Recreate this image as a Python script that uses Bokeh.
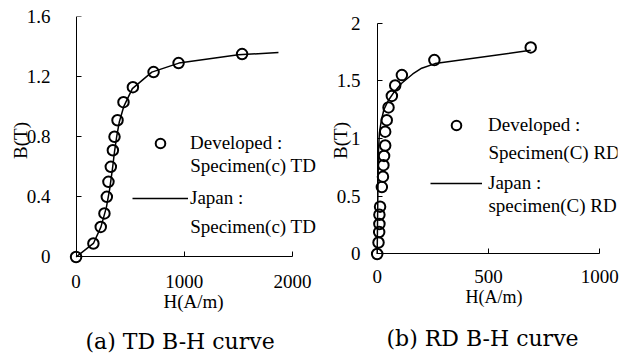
from bokeh.plotting import figure
from bokeh.layouts import row
from bokeh.models import (FixedTicker, Label, Legend, LegendItem, Title, Range1d,
                          LinearAxis)
from bokeh.embed import file_html
from bokeh.resources import INLINE

# ---- data (a) TD ----
TD_H_DEV = [0, 160, 228, 262, 284, 299, 321, 340, 355, 383, 438, 525, 716, 947, 1534]
TD_B_DEV = [0, 0.09, 0.2, 0.29, 0.4, 0.5, 0.6, 0.71, 0.8, 0.91, 1.03, 1.13, 1.23, 1.29, 1.35]
TD_H_JP = [0, 160, 230, 280, 310, 335, 355, 375, 400, 440, 520, 700, 950, 1500, 1870]
TD_B_JP = [0, 0.09, 0.2, 0.33, 0.45, 0.58, 0.7, 0.8, 0.9, 1.0, 1.12, 1.23, 1.29, 1.345, 1.36]
TD_X_TICKS = [0, 1000, 2000]
TD_X_LABELS = ["0", "1000", "2000"]
TD_Y_TICKS = [0, 0.4, 0.8, 1.2, 1.6]
TD_Y_LABELS = ["0", "0.4", "0.8", "1.2", "1.6"]

# ---- data (b) RD ----
RD_H_DEV = [0, 6, 9, 10, 10, 13, 21, 26, 28, 31, 36, 36, 43, 51, 66, 81, 111, 257, 690]
RD_B_DEV = [0, 0.10, 0.19, 0.26, 0.34, 0.41, 0.58, 0.67, 0.77, 0.85, 0.94, 1.06, 1.16,
            1.27, 1.37, 1.46, 1.55, 1.68, 1.79]
RD_H_JP = [0, 3, 6, 10, 18, 30, 50, 75, 110, 160, 200, 260, 690]
RD_B_JP = [0, 0.5, 0.9, 1.05, 1.15, 1.25, 1.33, 1.4, 1.48, 1.56, 1.61, 1.65, 1.765]
RD_X_TICKS = [0, 500, 1000]
RD_X_LABELS = ["0", "500", "1000"]
RD_Y_TICKS = [0, 0.5, 1, 1.5, 2]
RD_Y_LABELS = ["0", "0.5", "1", "1.5", "2"]

SERIF = "Liberation Serif"


def style_label_axis(ax, ticks, labels, standoff, label, label_fs, label_standoff):
    # axis at the frame edge: only tick labels and axis title
    ax.ticker = FixedTicker(ticks=ticks)
    ax.major_label_overrides = {t: l for t, l in zip(ticks, labels)}
    ax.bounds = (ticks[0], ticks[-1])
    ax.axis_line_color = None
    ax.major_tick_line_color = None
    ax.minor_tick_line_color = None
    ax.major_tick_in = 0
    ax.major_tick_out = 0
    ax.major_label_standoff = standoff
    ax.major_label_text_font = SERIF
    ax.major_label_text_font_size = "19px"
    ax.major_label_text_color = "black"
    ax.axis_label = label
    ax.axis_label_text_font = SERIF
    ax.axis_label_text_font_size = label_fs
    ax.axis_label_text_font_style = "normal"
    ax.axis_label_text_color = "black"
    ax.axis_label_standoff = label_standoff


def line_axis(ticks):
    # axis drawn at data 0: line and inward ticks only
    ax = LinearAxis(ticker=FixedTicker(ticks=ticks), fixed_location=0,
                    bounds=(ticks[0], ticks[-1]))
    ax.axis_line_color = "black"
    ax.axis_line_width = 1
    ax.major_tick_in = 5
    ax.major_tick_out = 0
    ax.major_tick_line_color = "black"
    ax.minor_tick_line_color = None
    ax.major_label_text_font_size = "0px"
    ax.major_label_text_alpha = 0
    ax.major_label_standoff = 0
    return ax


def make_panel(hx, bx, hl, bl, xr, yr, xt, xtl, yt, ytl, fw, fh, borders,
               ystand, ylabstand, xstand, xlabstand, xlabfs, leg_loc, leg_spacing,
               glyph_w, leg_standoff, leg_texts, second_lines, caption, cap_standoff,
               cap_offset):
    bl_, br_, bt_, bb_ = borders
    p = figure(frame_width=fw, frame_height=fh, x_range=Range1d(*xr), y_range=Range1d(*yr),
               output_backend="svg", toolbar_location=None, title=None,
               min_border_left=bl_, min_border_right=br_, min_border_top=bt_,
               min_border_bottom=bb_, background_fill_color="white",
               border_fill_color="white", outline_line_color=None)
    p.xgrid.visible = False
    p.ygrid.visible = False

    style_label_axis(p.xaxis[0], xt, xtl, xstand, "H(A/m)", xlabfs, xlabstand)
    style_label_axis(p.yaxis[0], yt, ytl, ystand, "B(T)", "19px", ylabstand)
    p.add_layout(line_axis(yt), "left")
    p.add_layout(line_axis(xt), "below")

    ln = p.line(hl, bl, line_color="black", line_width=1.5)
    sc = p.scatter(hx, bx, marker="circle", size=10.5, fill_color=None,
                   line_color="black", line_width=2)

    leg = Legend(items=[LegendItem(label=leg_texts[0], renderers=[sc]),
                        LegendItem(label=leg_texts[1], renderers=[ln])],
                 location=leg_loc, orientation="vertical",
                 padding=0, margin=0, spacing=leg_spacing,
                 glyph_width=glyph_w, glyph_height=24, label_height=24,
                 label_standoff=leg_standoff, label_text_font=SERIF,
                 label_text_font_size="19px", label_text_color="black",
                 border_line_color=None, background_fill_alpha=0)
    p.add_layout(leg)

    for (lx, ly, txt) in second_lines:
        p.add_layout(Label(x=lx, y=ly, text=txt, text_baseline="middle",
                           text_align="left", text_font=SERIF,
                           text_font_size="19px", text_color="black"))

    cap = Title(text=caption, align="left", text_font="DejaVu Serif",
                text_font_size="22px", text_font_style="normal",
                text_color="black", standoff=cap_standoff, offset=cap_offset)
    p.add_layout(cap, "below")
    return p


p1 = make_panel(TD_H_DEV, TD_B_DEV, TD_H_JP, TD_B_JP,
                (-70, 2240), (-0.05, 1.6), TD_X_TICKS, TD_X_LABELS,
                TD_Y_TICKS, TD_Y_LABELS, 250, 248, (68, 0, 16, 94),
                18, -7, 10, 0, "19px", (64, 54), 31, 56, 2,
                ["Developed :", "Japan :"],
                [(1054, 0.607, "Specimen(c) TD"), (1054, 0.2, "Specimen(c) TD")],
                "(a) TD B-H curve", 25, 17)

p2 = make_panel(RD_H_DEV, RD_B_DEV, RD_H_JP, RD_B_JP,
                (-30, 1080), (-0.091, 2.058), RD_X_TICKS, RD_X_LABELS,
                RD_Y_TICKS, RD_Y_LABELS, 247, 248, (52, 10, 16, 94),
                10, -17, 5, 1, "18px", (60, 69), 34, 52, 6,
                ["Developed :", "Japan :"],
                [(500, 0.88, "Specimen(C) RD"), (500, 0.42, "specimen(C) RD")],
                "(b) RD B-H curve", 29, 16)

layout = row(p1, p2, spacing=0)
open("out.html", "w").write(file_html(layout, INLINE))
